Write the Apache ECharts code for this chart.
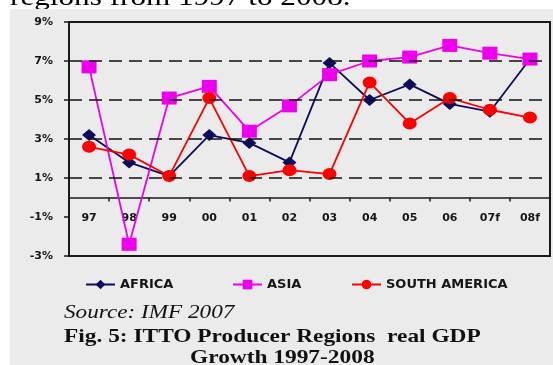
<!DOCTYPE html>
<html>
<head>
<meta charset="utf-8">
<script src="https://cdn.jsdelivr.net/npm/echarts@6/dist/echarts.min.js"></script>
<style>
  html, body { margin: 0; padding: 0; background: #ffffff; }
  #chart { width: 553px; height: 365px; }
</style>
</head>
<body>
<div id="chart"></div>
<script>
// Real GDP growth (%) by ITTO producer region, 1997-2008 (f = forecast)
const years = ['97', '98', '99', '00', '01', '02', '03', '04', '05', '06', '07f', '08f'];
const africa = [3.2, 1.8, 1.1, 3.2, 2.8, 1.8, 6.9, 5.0, 5.8, 4.8, 4.4, 7.1];
const asia = [6.7, -2.4, 5.1, 5.7, 3.4, 4.7, 6.3, 7.0, 7.2, 7.8, 7.4, 7.1];
const southAmerica = [2.6, 2.2, 1.1, 5.1, 1.1, 1.4, 1.2, 5.9, 3.8, 5.1, 4.5, 4.1];
const dashedLevels = [1, 3, 5, 7];
const yMin = -3, yMax = 9;

const gridTop = 22, gridBottom = 109, chartHeight = 365;
// distance from the bottom of the plot up to the 0% line
const plotHeight = chartHeight - gridTop - gridBottom;
const zeroOffset = plotHeight * (0 - yMin) / (yMax - yMin);

const axisFont = { fontFamily: 'DejaVu Sans', fontWeight: 'bold', fontSize: 11, color: '#151515' };
const legendFont = { fontFamily: 'DejaVu Sans', fontWeight: 'bold', fontSize: 13, color: '#151515' };

function legendAt(name, left) {
  return {
    data: [name], left: left, top: 273,
    itemWidth: 29, itemHeight: 12, itemGap: 0,
    textStyle: legendFont, selectedMode: false
  };
}

const chart = echarts.init(document.getElementById('chart'));
chart.setOption({
  animation: false,
  backgroundColor: '#ffffff',
  graphic: [
    { type: 'text', left: 10, top: -15, z: -20, scaleX: 1.2,
      style: { text: 'regions from 1997 to 2008.', font: '26px "Liberation Serif"', fill: '#000' } },
    { type: 'rect', left: 10, top: 9, z: -10,
      shape: { width: 543, height: 356 }, style: { fill: '#ebebeb' } },
    { type: 'text', left: 64, top: 303, scaleX: 1.22,
      style: { text: 'Source: IMF 2007', font: 'italic 19px "Liberation Serif"', fill: '#111' } },
    { type: 'text', left: 64, top: 328, scaleX: 1.23,
      style: { text: 'Fig. 5: ITTO Producer Regions  real GDP', font: 'bold 19px "Liberation Serif"', fill: '#111' } },
    { type: 'text', left: 190, top: 349, scaleX: 1.23,
      style: { text: 'Growth 1997-2008', font: 'bold 19px "Liberation Serif"', fill: '#111' } }
  ],
  grid: {
    left: 69, right: 3, top: gridTop, bottom: gridBottom,
    show: true, backgroundColor: '#ebebeb', borderColor: '#1a1a1a', borderWidth: 2
  },
  legend: [
    legendAt('AFRICA', 80),
    legendAt('ASIA', 227),
    legendAt('SOUTH AMERICA', 346)
  ],
  xAxis: [
    {
      // the category line and its ticks, drawn through 0%
      type: 'category', data: years, boundaryGap: true, position: 'bottom',
      axisLine: { show: true, onZero: true, lineStyle: { color: '#1a1a1a', width: 1.5 } },
      axisTick: { show: true, inside: false, length: 4, lineStyle: { color: '#1a1a1a', width: 1.5 } },
      axisLabel: { show: false },
      splitLine: { show: false }
    },
    {
      // year labels just below the 0% line
      type: 'category', data: years, boundaryGap: true,
      position: 'bottom', offset: -zeroOffset,
      axisLine: { show: false, onZero: false },
      axisTick: { show: false },
      axisLabel: Object.assign({ margin: 15 }, axisFont),
      splitLine: { show: false }
    }
  ],
  yAxis: {
    type: 'value', min: yMin, max: yMax, interval: 2,
    axisLine: { show: true, lineStyle: { color: '#1a1a1a', width: 2 } },
    axisTick: { show: true, length: 5, lineStyle: { color: '#1a1a1a', width: 1.5 } },
    axisLabel: Object.assign({ margin: 16, formatter: '{value}%' }, axisFont),
    splitLine: { show: false }
  },
  series: [
    {
      name: 'AFRICA', type: 'line', data: africa, xAxisIndex: 0,
      symbol: 'diamond', symbolSize: [14, 12],
      itemStyle: { color: '#0d0d5c' }, lineStyle: { color: '#0d0d5c', width: 1.8 },
      markLine: {
        silent: true, symbol: ['none', 'none'], label: { show: false },
        lineStyle: { color: '#111', width: 1.6, type: [13, 7] },
        data: dashedLevels.map(v => ({ yAxis: v }))
      }
    },
    {
      name: 'ASIA', type: 'line', data: asia, xAxisIndex: 0,
      symbol: 'rect', symbolSize: [15, 13],
      itemStyle: { color: '#ee00ee' }, lineStyle: { color: '#ee00ee', width: 1.8 }
    },
    {
      name: 'SOUTH AMERICA', type: 'line', data: southAmerica, xAxisIndex: 0,
      symbol: 'circle', symbolSize: [14, 12],
      itemStyle: { color: '#ff0000' }, lineStyle: { color: '#ff0000', width: 1.8 }
    }
  ]
});
</script>
</body>
</html>
